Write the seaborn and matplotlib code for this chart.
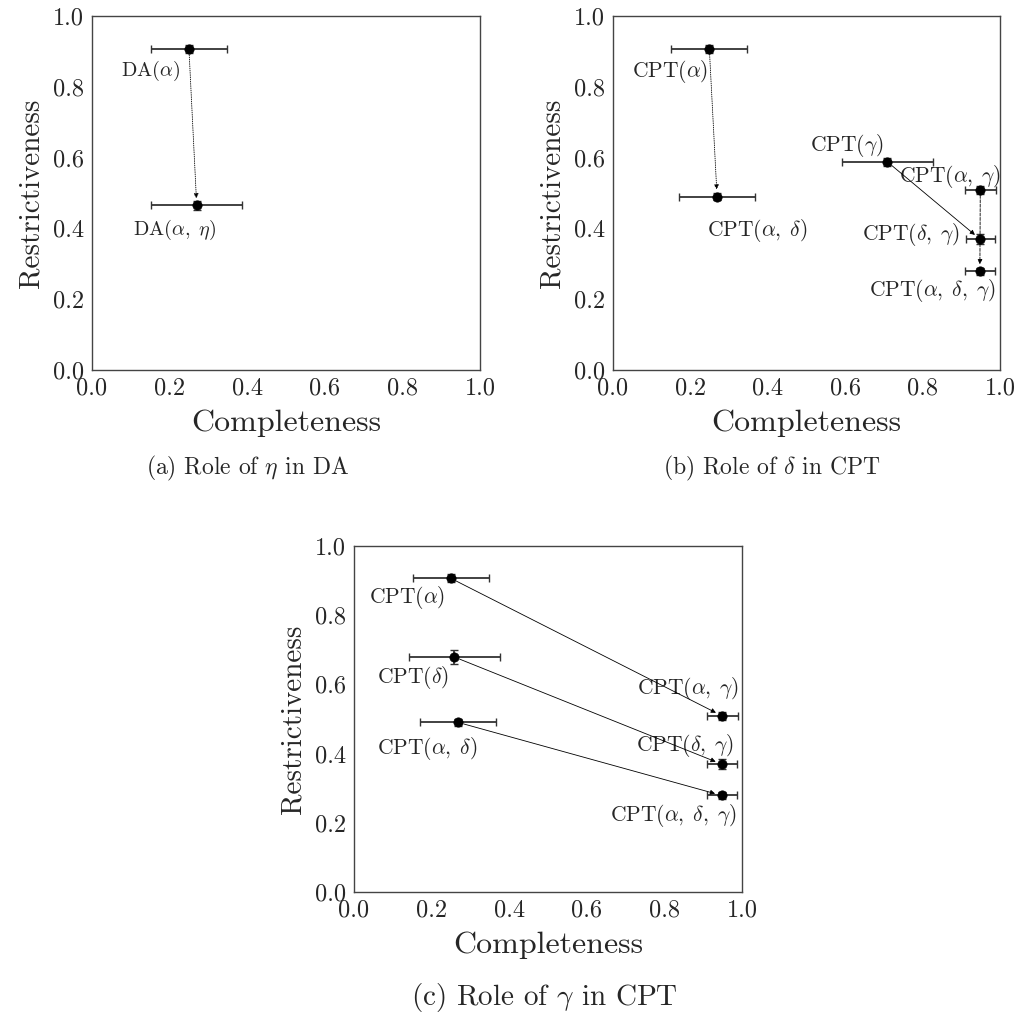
import pandas as pd
import seaborn as sns
import matplotlib.pyplot as plt

# values
da_names = ["a", "ae"]
da_labels = [r"DA$(\alpha)$", r"DA$(\alpha,\;\eta)$"]
da_x = [0.250, 0.270]
da_y = [0.906, 0.465]
da_xerr = [0.098, 0.118]
da_yerr = [0.012, 0.012]

cpt_names = ["a", "d", "ad", "g", "ag", "dg", "adg"]
cpt_labels = [r"CPT$(\alpha)$", r"CPT$(\delta)$", r"CPT$(\alpha,\;\delta)$", r"CPT$(\gamma)$",
              r"CPT$(\alpha,\;\gamma)$", r"CPT$(\delta,\;\gamma)$", r"CPT$(\alpha,\;\delta,\;\gamma)$"]
cpt_x = [0.249, 0.259, 0.269, 0.709, 0.949, 0.949, 0.948]
cpt_y = [0.907, 0.679, 0.490, 0.588, 0.509, 0.369, 0.279]
cpt_xerr = [0.098, 0.117, 0.098, 0.118, 0.040, 0.038, 0.038]
cpt_yerr = [0.012, 0.020, 0.010, 0.012, 0.012, 0.014, 0.010]

da = pd.DataFrame({"name": da_names, "label": da_labels, "x": da_x, "y": da_y,
                   "xerr": da_xerr, "yerr": da_yerr}).set_index("name")
cpt = pd.DataFrame({"name": cpt_names, "label": cpt_labels, "x": cpt_x, "y": cpt_y,
                    "xerr": cpt_xerr, "yerr": cpt_yerr}).set_index("name")

sns.set_style("white")
plt.rcParams["font.family"] = ["cmr10"]
plt.rcParams["mathtext.fontset"] = "cm"
plt.rcParams["axes.formatter.use_mathtext"] = True
plt.rcParams["axes.unicode_minus"] = False


def draw_panel(ax, df, names, label_pos, arrows, fs):
    sub = df.loc[names]
    ax.errorbar(sub["x"], sub["y"], xerr=sub["xerr"], yerr=sub["yerr"], fmt="none",
                ecolor="#333333", elinewidth=1.3, capsize=3, capthick=1.0)
    sns.scatterplot(data=sub, x="x", y="y", ax=ax, color="black", s=45,
                    edgecolor="black", linewidth=0.5, zorder=3)
    for n, (tx, ty) in label_pos.items():
        ax.text(tx, ty, df.loc[n, "label"], ha="center", va="center", fontsize=fs)
    for src, dst, ls in arrows:
        ax.annotate("", xy=(df.loc[dst, "x"], df.loc[dst, "y"]),
                    xytext=(df.loc[src, "x"], df.loc[src, "y"]),
                    arrowprops=dict(arrowstyle="-|>", color="black", lw=0.6, ls=ls,
                                    mutation_scale=7, shrinkA=4, shrinkB=5))
    ax.set_xlim(0, 1)
    ax.set_ylim(0, 1)
    ax.set_xticks([0, 0.2, 0.4, 0.6, 0.8, 1.0])
    ax.set_yticks([0, 0.2, 0.4, 0.6, 0.8, 1.0])
    ax.set_xticklabels(["0.0", "0.2", "0.4", "0.6", "0.8", "1.0"])
    ax.set_yticklabels(["0.0", "0.2", "0.4", "0.6", "0.8", "1.0"])
    ax.tick_params(labelsize=17.5, pad=2)
    ax.set_xlabel("Completeness", fontsize=23, labelpad=7)
    ax.set_ylabel("Restrictiveness", fontsize=21, labelpad=6)
    for s in ax.spines.values():
        s.set_color("#444444")
        s.set_linewidth(1.0)


fig = plt.figure(figsize=(10.14, 10.24), dpi=100)
ax_a = fig.add_axes([0.0907, 0.6387, 0.3826, 0.3457])
ax_b = fig.add_axes([0.6045, 0.6387, 0.3817, 0.3457])
ax_c = fig.add_axes([0.3491, 0.1289, 0.3826, 0.3379])

draw_panel(ax_a, da, ["a", "ae"],
           {"a": (0.151, 0.846), "ae": (0.214, 0.395)},
           [("a", "ae", ":")], 14.5)

draw_panel(ax_b, cpt, ["a", "ad", "g", "ag", "dg", "adg"],
           {"a": (0.147, 0.843), "ad": (0.373, 0.394), "g": (0.603, 0.635),
            "ag": (0.871, 0.546), "dg": (0.769, 0.384), "adg": (0.824, 0.224)},
           [("a", "ad", ":"), ("g", "dg", "-"), ("ag", "adg", "--")], 15.5)

draw_panel(ax_c, cpt, ["a", "d", "ad", "ag", "dg", "adg"],
           {"a": (0.138, 0.851), "d": (0.152, 0.620), "ad": (0.190, 0.416),
            "ag": (0.860, 0.589), "dg": (0.854, 0.423), "adg": (0.822, 0.222)},
           [("a", "ag", "-"), ("d", "dg", "-"), ("ad", "adg", "-")], 15.5)

fig.text(247 / 1014, 1 - 468 / 1024, r"(a) Role of $\eta$ in DA", ha="center", va="center", fontsize=17)
fig.text(772 / 1014, 1 - 468 / 1024, r"(b) Role of $\delta$ in CPT", ha="center", va="center", fontsize=17)
fig.text(544 / 1014, 1 - 998 / 1024, r"(c) Role of $\gamma$ in CPT", ha="center", va="center", fontsize=21)

fig.savefig("out.png", dpi=100)
